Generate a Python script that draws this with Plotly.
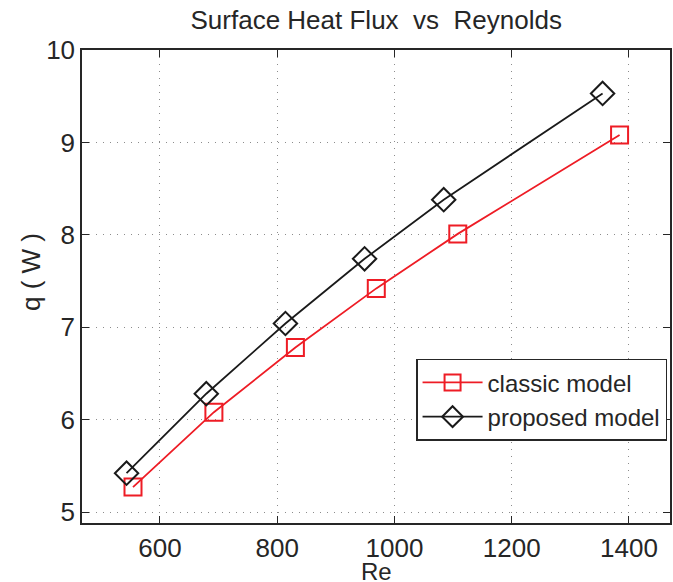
import plotly.graph_objects as go

# Data
re_classic = [554, 692, 831, 969, 1108, 1384]
q_classic = [5.27, 6.08, 6.78, 7.42, 8.01, 9.08]

re_proposed = [543, 679, 814, 949, 1084, 1355]
q_proposed = [5.42, 6.28, 7.04, 7.74, 8.38, 9.53]

x_ticks = [600, 800, 1000, 1200, 1400]
y_ticks = [5, 6, 7, 8, 9, 10]

FONT = "Liberation Sans, Arial, Helvetica, sans-serif"
AXC = "#262626"

fig = go.Figure()
fig.add_trace(go.Scatter(
    x=re_classic, y=q_classic, mode="lines+markers", name="classic model",
    line=dict(color="#ee1c25", width=1.8),
    marker=dict(symbol="square-open", size=17, color="#ee1c25",
                line=dict(width=2, color="#ee1c25")),
))
fig.add_trace(go.Scatter(
    x=re_proposed, y=q_proposed, mode="lines+markers", name="proposed model",
    line=dict(color="#1a1a1a", width=1.8),
    marker=dict(symbol="diamond-open", size=18, color="#1a1a1a",
                line=dict(width=2, color="#1a1a1a")),
))

axis_common = dict(
    showline=True, linecolor=AXC, linewidth=1.5, mirror="ticks",
    ticks="inside", ticklen=7, tickwidth=1.2, tickcolor=AXC,
    showgrid=True, gridcolor="#8c8c8c", gridwidth=1, griddash="1px,6px",
    zeroline=False, automargin=False,
    tickfont=dict(family=FONT, size=26, color=AXC),
)

fig.update_xaxes(
    range=[467, 1470], tickvals=x_ticks, ticktext=[str(v) for v in x_ticks],
    ticklabelstandoff=1,
    **axis_common,
)
fig.update_yaxes(
    range=[4.881, 10], tickvals=y_ticks, ticktext=[str(v) for v in y_ticks],
    **axis_common,
)

fig.update_layout(
    width=673, height=582,
    margin=dict(l=82, r=3, t=50, b=59),
    paper_bgcolor="white", plot_bgcolor="white",
    title=dict(text="Surface Heat Flux  vs  Reynolds", x=0.559, xanchor="center",
               y=1 - 20 / 582, yanchor="middle",
               font=dict(family=FONT, size=26, color=AXC)),
    showlegend=True,
    legend=dict(
        x=0.995, xanchor="right", y=0.347, yanchor="top",
        bgcolor="white", bordercolor=AXC, borderwidth=1.5,
        font=dict(family=FONT, size=24, color=AXC),
        itemwidth=60, tracegroupgap=0,
    ),
    annotations=[
        dict(text="Re", xref="paper", yref="paper", x=0.5, y=-0.1015,
             xanchor="center", yanchor="middle", showarrow=False,
             font=dict(family=FONT, size=24, color=AXC)),
        dict(text="q ( W )", xref="paper", yref="paper", x=-0.0867, y=0.5307,
             xanchor="center", yanchor="middle", showarrow=False, textangle=-90,
             font=dict(family=FONT, size=26, color=AXC)),
    ],
)

fig.write_html("out.html", config={"displayModeBar": False},
               post_script="document.body.style.margin='0px';")
